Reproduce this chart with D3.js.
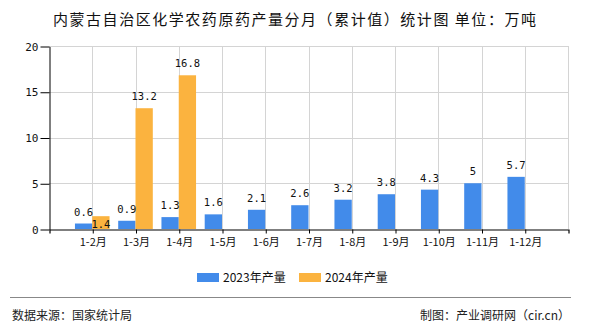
<!DOCTYPE html>
<html>
<head>
<meta charset="utf-8">
<script src="https://cdn.jsdelivr.net/npm/d3@7"></script>
<style>
  html, body { margin: 0; padding: 0; background: #fff; }
  svg { display: block; }
</style>
</head>
<body>
<svg id="chart" width="590" height="330"></svg>
<script>
// Cumulative monthly output (10k tonnes)
const months = ["1-2月", "1-3月", "1-4月", "1-5月", "1-6月", "1-7月", "1-8月", "1-9月", "1-10月", "1-11月", "1-12月"];
const values2023 = [0.6, 0.9, 1.3, 1.6, 2.1, 2.6, 3.2, 3.8, 4.3, 5, 5.7];
const values2024 = [1.4, 13.2, 16.8, null, null, null, null, null, null, null, null];
const seriesNames = ["2023年产量", "2024年产量"];
const seriesColors = ["#428bea", "#fbb33f"];
const yTicks = [0, 5, 10, 15, 20];

const svg = d3.select("#chart");
const cjk = "'Noto Sans CJK SC', 'Noto Sans', sans-serif";
const mono = "'DejaVu Sans Mono', 'Liberation Mono', monospace";

const plot = { left: 49, right: 568, top: 46, bottom: 229 };

const x = d3.scalePoint().domain(months).range([plot.left, plot.right]).padding(1);
const y = d3.scaleLinear().domain([0, 20]).range([plot.bottom, plot.top]);
const barW = x.step() * 0.4;

// Title
svg.append("text")
  .attr("x", 53).attr("y", 25)
  .attr("textLength", 483).attr("lengthAdjust", "spacing")
  .style("font-family", cjk).style("font-size", "15px").attr("fill", "#111")
  .text("内蒙古自治区化学农药原药产量分月（累计值）统计图 单位：万吨");

// Grid
const grid = svg.append("g").attr("stroke", "#d4d4d4").attr("stroke-width", 1);
yTicks.filter(t => t > 0).forEach(t => {
  grid.append("line")
    .attr("x1", plot.left).attr("x2", plot.right)
    .attr("y1", Math.round(y(t)) + 0.5).attr("y2", Math.round(y(t)) + 0.5);
});
months.concat([null]).forEach(m => {
  const xx = m === null ? plot.right : x(m);
  grid.append("line")
    .attr("x1", Math.round(xx) + 0.5).attr("x2", Math.round(xx) + 0.5)
    .attr("y1", plot.top).attr("y2", plot.bottom);
});

// Bars
const bars = svg.append("g");
bars.selectAll("rect.s0").data(values2023).join("rect")
  .attr("class", "s0")
  .attr("x", (d, i) => x(months[i]) - barW)
  .attr("y", d => y(d))
  .attr("width", barW)
  .attr("height", d => y(0) - y(d))
  .attr("fill", seriesColors[0]);
bars.selectAll("rect.s1").data(values2024).join("rect")
  .attr("class", "s1")
  .attr("x", (d, i) => x(months[i]))
  .attr("y", d => d == null ? y(0) : y(d))
  .attr("width", barW)
  .attr("height", d => d == null ? 0 : y(0) - y(d))
  .attr("fill", seriesColors[1])
  .style("display", d => d == null ? "none" : null);

// Value labels; a label that would collide with its neighbour drops into the bar
const labels = svg.append("g")
  .style("font-family", mono).style("font-size", "10.5px")
  .attr("fill", "#111").attr("text-anchor", "middle");
values2023.forEach((v, i) => {
  labels.append("text")
    .attr("x", x(months[i]) - barW / 2)
    .attr("y", y(v) - 8)
    .text(v);
});
values2024.forEach((v, i) => {
  if (v == null) return;
  const yb = y(values2023[i]) - 8;
  let yy = y(v) - 8;
  if (Math.abs(yy - yb) < 12) yy = y(v) + 12;
  labels.append("text")
    .attr("x", x(months[i]) + barW / 2)
    .attr("y", yy)
    .text(v);
});

// Y axis
const yAxis = svg.append("g").attr("transform", `translate(${plot.left + 0.5},0.5)`)
  .call(d3.axisLeft(y).tickValues(yTicks).tickSize(9).tickPadding(2).tickSizeOuter(0));
yAxis.select(".domain").attr("stroke", "#000");
yAxis.selectAll(".tick line").attr("stroke", "#000");
yAxis.selectAll("text").style("font-family", mono).style("font-size", "11px").attr("fill", "#111");

// X axis
const xAxis = svg.append("g").attr("transform", `translate(0.5,${plot.bottom + 0.5})`)
  .call(d3.axisBottom(x).tickSize(4).tickPadding(5).tickSizeOuter(4));
xAxis.select(".domain").attr("stroke", "#000").attr("stroke-width", 1.2);
xAxis.selectAll(".tick line").attr("stroke", "#000");
xAxis.selectAll("text").style("font-family", cjk).style("font-size", "11px").attr("fill", "#111");

// Legend
const legend = svg.append("g").style("font-family", cjk).style("font-size", "12px");
const legendX = [197, 299];
seriesNames.forEach((name, i) => {
  legend.append("rect").attr("x", legendX[i]).attr("y", 273).attr("width", 22).attr("height", 9)
    .attr("fill", seriesColors[i]);
  legend.append("text").attr("x", legendX[i] + 26).attr("y", 282).attr("fill", "#111").text(name);
});

// Footer
svg.append("line").attr("x1", 10).attr("x2", 571).attr("y1", 297.5).attr("y2", 297.5)
  .attr("stroke", "#888").attr("stroke-width", 1.2);
svg.append("text").attr("x", 12).attr("y", 320)
  .style("font-family", cjk).style("font-size", "12px").attr("fill", "#222")
  .text("数据来源：国家统计局");
svg.append("text").attr("x", 570).attr("y", 320).attr("text-anchor", "end")
  .style("font-family", cjk).style("font-size", "12px").attr("fill", "#222")
  .text("制图：产业调研网（cir.cn）");
</script>
</body>
</html>
